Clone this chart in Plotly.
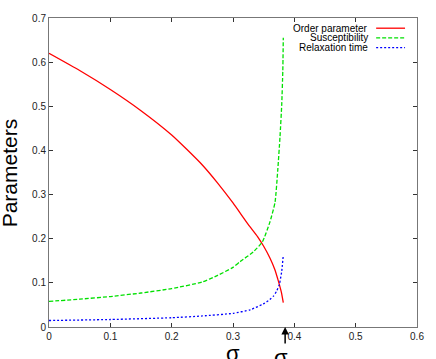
import plotly.graph_objects as go

# order parameter (red, solid)
sigma_order = [0.0, 0.05, 0.1, 0.15, 0.2, 0.225, 0.25, 0.275, 0.3, 0.325, 0.34, 0.35, 0.36, 0.368, 0.374, 0.379, 0.382]
order_param = [0.620, 0.581, 0.538, 0.490, 0.435, 0.402, 0.367, 0.326, 0.281, 0.232, 0.205, 0.183, 0.157, 0.131, 0.104, 0.078, 0.055]

# susceptibility (green, dashed)
sigma_susc = [0.0, 0.05, 0.1, 0.15, 0.2, 0.25, 0.275, 0.3, 0.3115, 0.333, 0.348, 0.36, 0.3685, 0.373, 0.3766, 0.3795, 0.3812, 0.382]
susceptibility = [0.058, 0.063, 0.069, 0.077, 0.087, 0.102, 0.117, 0.135, 0.148, 0.170, 0.193, 0.237, 0.282, 0.356, 0.430, 0.505, 0.58, 0.655]

# relaxation time (blue, dotted)
sigma_relax = [0.0, 0.1, 0.2, 0.25, 0.3, 0.328, 0.349, 0.36, 0.366, 0.371, 0.3755, 0.3794, 0.382]
relax_time = [0.0147, 0.017, 0.021, 0.025, 0.031, 0.039, 0.052, 0.062, 0.070, 0.081, 0.096, 0.126, 0.163]

names = ["Order parameter", "Susceptibility", "Relaxation time"]
colors = ["#ff0000", "#00e000", "#0000ff"]
dashes = ["solid", "4px,2px", "2px,2px"]

sigma_c = 0.385

font = "Liberation Sans, Arial, Helvetica, sans-serif"

fig = go.Figure()
series = [(sigma_order, order_param), (sigma_susc, susceptibility), (sigma_relax, relax_time)]
for (xs, ys), name, col, dash in zip(series, names, colors, dashes):
    fig.add_trace(go.Scatter(x=xs, y=ys, mode="lines", name=name,
                             line=dict(color=col, width=1.3, dash=dash, shape="spline", smoothing=0.5)))

# gnuplot style legend: text on the left, sample line on the right
leg_y = [0.967, 0.936, 0.904]
for name, col, dash, ly in zip(names, colors, dashes, leg_y):
    fig.add_annotation(x=0.873, y=ly, xref="paper", yref="paper", text=name, showarrow=False,
                       xanchor="right", yanchor="middle", font=dict(size=10, color="black", family=font))
    fig.add_shape(type="line", xref="paper", yref="paper", x0=0.889, x1=0.9675, y0=ly, y1=ly,
                  line=dict(color=col, width=1.3, dash=dash))

axis_style = dict(showline=True, linecolor="#777777", linewidth=1, mirror="allticks",
                  ticks="inside", ticklen=4, tickcolor="#333333", showgrid=False, zeroline=False,
                  dtick=0.1, tickfont=dict(size=10, color="#222222", family=font))
fig.update_xaxes(range=[0, 0.6], **axis_style)
fig.update_yaxes(range=[0, 0.7], **axis_style)

fig.add_annotation(x=-0.108, y=0.498, xref="paper", yref="paper", text="Parameters", textangle=-90,
                   showarrow=False, xanchor="center", yanchor="middle",
                   font=dict(size=21, color="black", family=font))
fig.add_annotation(x=0.3, y=-0.04, xref="x", yref="paper", text="σ", showarrow=False,
                   xanchor="center", yanchor="top", font=dict(size=22, color="black", family=font))
fig.add_annotation(x=sigma_c, y=0, xref="x", yref="y", text="σ<sub>c</sub>", showarrow=True,
                   ax=0, ay=36, arrowhead=2, arrowsize=1, arrowwidth=1.5, arrowcolor="black",
                   font=dict(size=22, color="black", family=font))

fig.update_layout(width=436, height=359, margin=dict(l=49, r=18, t=12, b=32),
                  plot_bgcolor="white", paper_bgcolor="white", showlegend=False)

fig.write_html("out.html", config={"displayModeBar": False},
               post_script="document.body.style.margin='0';")
